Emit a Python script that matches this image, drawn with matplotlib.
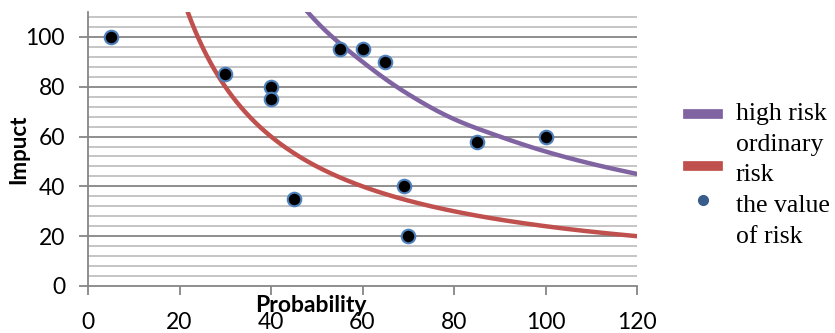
import matplotlib.pyplot as plt
from matplotlib.lines import Line2D
from matplotlib.legend_handler import HandlerLine2D
import numpy as np

# risk points (probability, impact)
prob = [5, 30, 40, 40, 45, 55, 60, 65, 69, 70, 85, 100]
impact = [100, 85, 80, 75, 35, 95, 95, 90, 40, 20, 58, 60]

# boundary curves
high_x = [48, 50, 60, 70, 80, 90, 100, 120]
high_y = [110, 106, 90, 77, 67, 60, 54, 45]
ord_x = [21.8, 25, 30, 40, 50, 60, 80, 100, 120]
ord_y = [110, 96, 80, 60, 48, 40, 30, 24, 20]

purple = '#8064a2'
red = '#c0504d'

plt.rcParams['font.family'] = ['Lato', 'DejaVu Sans']

fig = plt.figure(figsize=(8.35, 3.33), dpi=100)
ax = fig.add_axes([88/835, 1-286/333, 549/835, 274/333])


def smooth(xs, ys, n=300):
    # cubic Hermite through the points, done in log-log space
    lx = np.log(np.asarray(xs, float)); ly = np.log(np.asarray(ys, float))
    m = np.gradient(ly, lx)
    t = np.linspace(lx[0], lx[-1], n)
    out = np.empty_like(t)
    for k, tv in enumerate(t):
        i = int(np.clip(np.searchsorted(lx, tv) - 1, 0, len(lx) - 2))
        h = lx[i+1] - lx[i]
        s = (tv - lx[i]) / h
        out[k] = ((2*s**3 - 3*s**2 + 1)*ly[i] + (s**3 - 2*s**2 + s)*h*m[i]
                  + (-2*s**3 + 3*s**2)*ly[i+1] + (s**3 - s**2)*h*m[i+1])
    return np.exp(t), np.exp(out)


class Shifted(HandlerLine2D):
    # moves the legend key up/down inside its entry, like Excel does
    def __init__(self, dy, **kw):
        super().__init__(**kw)
        self.dy = dy

    def create_artists(self, legend, orig_handle, xdescent, ydescent,
                       width, height, fontsize, trans):
        return super().create_artists(legend, orig_handle, xdescent, ydescent + self.dy,
                                      width, height, fontsize, trans)


hx, hy = smooth(high_x, high_y)
ox, oy = smooth(ord_x, ord_y)

# gridlines
for yv in range(4, 110, 4):
    major = yv % 20 == 0
    ax.axhline(yv, color='#868686' if major else '#c0c0c0', lw=1.3, zorder=0)

ax.plot(hx, hy, color=purple, lw=3.2, zorder=2)
ax.plot(ox, oy, color=red, lw=3.2, zorder=2)
ax.scatter(prob, impact, s=95, c='black', edgecolors='#4f81bd', linewidths=1.5, zorder=3)

ax.set_xlim(0, 120)
ax.set_ylim(0, 110)
ax.set_xticks(range(0, 121, 20))
ax.set_yticks(range(0, 101, 20))
for s in ['top', 'right']:
    ax.spines[s].set_visible(False)
for s in ['left', 'bottom']:
    ax.spines[s].set_color('#868686')
    ax.spines[s].set_linewidth(1.3)
ax.tick_params(axis='both', direction='out', length=6.5, width=1.3, color='#868686',
               labelsize=16.5, labelcolor='black')
ax.tick_params(axis='x', pad=12)
ax.tick_params(axis='y', pad=10)

ax.set_ylabel('Impuct', fontsize=16, fontweight='bold', va='center')
ax.yaxis.set_label_coords(-(88-19)/549, 0.5)
ax.set_xlabel('Probability', fontsize=16.5, fontweight='bold', va='center')
ax.xaxis.set_label_coords((311-88)/549, (286-305)/274)

h_high = Line2D([], [], color=purple, lw=7)
h_ord = Line2D([], [], color=red, lw=7)
h_pts = Line2D([], [], ls='none', marker='o', markersize=7,
               markerfacecolor='#385d8a', markeredgecolor='#385d8a')
labels = ['high risk', 'ordinary\nrisk', 'the value\nof risk']
leg = fig.legend([h_high, h_ord, h_pts], labels, loc='upper left',
                 bbox_to_anchor=(688/835, 1-102/333),
                 frameon=False, prop={'family': 'Liberation Serif', 'size': 18.5},
                 handlelength=1.15, handletextpad=0.7, labelspacing=0.35,
                 borderpad=0, borderaxespad=0,
                 handler_map={h_high: Shifted(5), h_ord: Shifted(9), h_pts: Shifted(-30)})
for t in leg.get_texts():
    t.set_linespacing(1.5)

fig.savefig('out.png', dpi=100)
